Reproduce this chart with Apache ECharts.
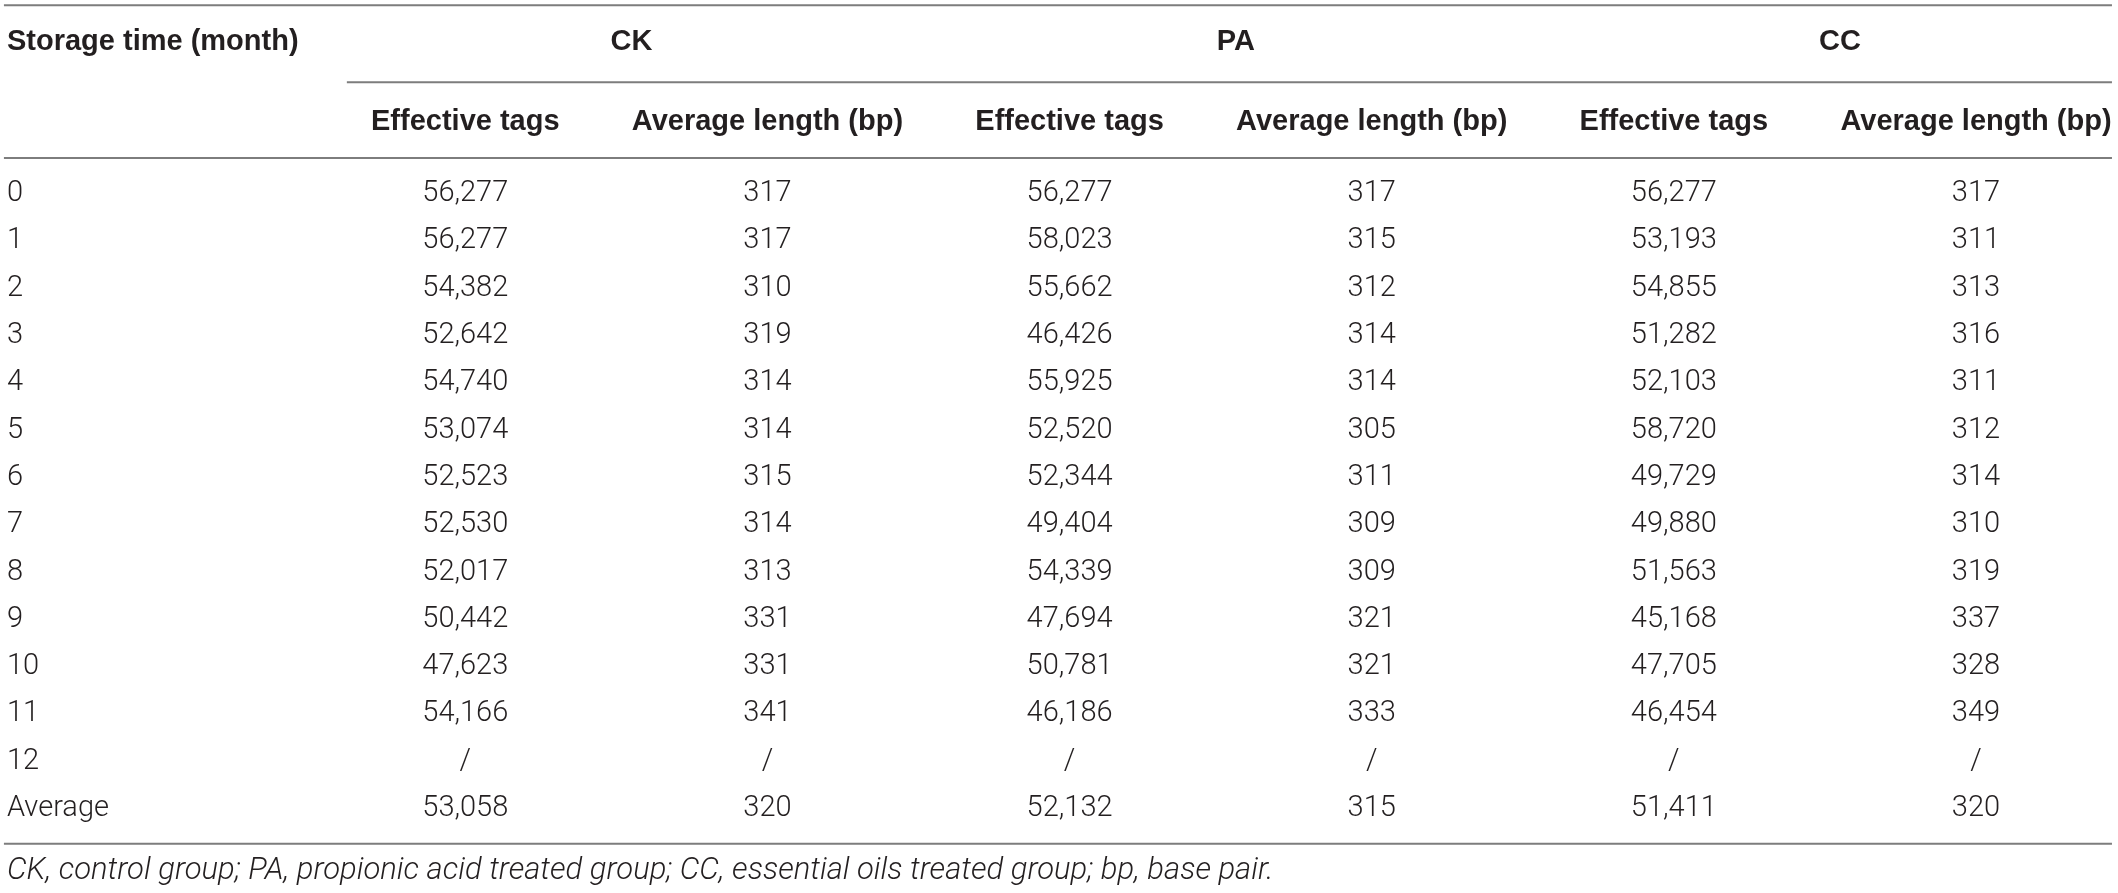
<!DOCTYPE html>
<html>
<head>
<meta charset="utf-8">
<script src="https://cdn.jsdelivr.net/npm/echarts@6/dist/echarts.min.js"></script>
<style>
  html, body { margin: 0; padding: 0; background: #fff; }
  #table-chart { width: 2118px; height: 893px; }
</style>
</head>
<body>
<div id="table-chart"></div>
<script>
// table content
const firstHead = 'Storage time (month)';
const groups = ['CK', 'PA', 'CC'];
const subHeads = ['Effective tags', 'Average length (bp)'];
const months = ['0', '1', '2', '3', '4', '5', '6', '7', '8', '9', '10', '11', '12', 'Average'];

const ckTags = [56277, 56277, 54382, 52642, 54740, 53074, 52523, 52530, 52017, 50442, 47623, 54166, null, 53058];
const ckLen = [317, 317, 310, 319, 314, 314, 315, 314, 313, 331, 331, 341, null, 320];
const paTags = [56277, 58023, 55662, 46426, 55925, 52520, 52344, 49404, 54339, 47694, 50781, 46186, null, 52132];
const paLen = [317, 315, 312, 314, 314, 305, 311, 309, 309, 321, 321, 333, null, 315];
const ccTags = [56277, 53193, 54855, 51282, 52103, 58720, 49729, 49880, 51563, 45168, 47705, 46454, null, 51411];
const ccLen = [317, 311, 313, 316, 311, 312, 314, 310, 319, 337, 328, 349, null, 320];

const footnote = 'CK, control group; PA, propionic acid treated group; CC, essential oils treated group; bp, base pair.';

// layout in axis units: data columns sit at x = 1..6, body rows at y = 0..13
const LABEL_X = -0.517;
const HEAD_Y = -3.21;
const SUB_Y = -1.52;
const NOTE_Y = 14.33;
const LINE_L = -0.527;
const LINE_R = 6.45;

const TEXT = '#231f20';
const RULE = '#7d7d7d';
const BODY_FONT = 'Roboto, "Liberation Sans", sans-serif';
const HEAD_FONT = '"Liberation Sans", Roboto, sans-serif';
const SIZE = 29;

const fmt = v => v == null ? '/' : v.toLocaleString('en-US');

const columns = [ckTags, ckLen, paTags, paLen, ccTags, ccLen];

const cells = [];
const head = (x, y, text, align) => cells.push({x, y, text, align, weight: 'bold', font: HEAD_FONT, size: SIZE});
const body = (x, y, text, align) => cells.push({x, y, text, align, weight: 300, font: BODY_FONT, size: SIZE});

head(LABEL_X, HEAD_Y, firstHead, 'left');
groups.forEach((g, i) => {
    head(2 * i + 1.55, HEAD_Y, g, 'center');
    subHeads.forEach((s, j) => head(2 * i + j + 1, SUB_Y, s, 'center'));
});
months.forEach((m, r) => {
    body(LABEL_X, r, m, 'left');
    columns.forEach((col, c) => body(c + 1, r, fmt(col[r]), 'center'));
});
cells.push({x: LABEL_X, y: NOTE_Y, text: footnote, align: 'left', weight: 300, font: BODY_FONT, size: 31, italic: true});

// horizontal rules [x0, x1, y]
const rules = [
    [LINE_L, LINE_R, -3.99],
    [0.608, LINE_R, -2.36],
    [LINE_L, LINE_R, -0.76],
    [LINE_L, LINE_R, 13.74]
];

const chart = echarts.init(document.getElementById('table-chart'), null, {renderer: 'canvas'});

chart.setOption({
    backgroundColor: '#fff',
    animation: false,
    grid: {left: 0, right: 0, top: 0, bottom: 0},
    xAxis: {type: 'value', min: -0.54, max: 6.47, show: false},
    yAxis: {type: 'value', min: -4.1, max: 14.78, inverse: true, show: false},
    series: [
        {
            type: 'custom',
            name: 'rules',
            data: rules,
            renderItem: (params, api) => {
                const a = api.coord([api.value(0), api.value(2)]);
                const b = api.coord([api.value(1), api.value(2)]);
                return {
                    type: 'line',
                    shape: {x1: a[0], y1: a[1], x2: b[0], y2: b[1]},
                    style: {stroke: RULE, lineWidth: 2}
                };
            }
        },
        {
            type: 'custom',
            name: 'cells',
            data: cells.map(c => [c.x, c.y]),
            renderItem: (params, api) => {
                const c = cells[params.dataIndex];
                const p = api.coord([api.value(0), api.value(1)]);
                return {
                    type: 'text',
                    x: p[0],
                    y: p[1],
                    style: {
                        text: c.text,
                        fill: TEXT,
                        fontSize: c.size,
                        fontFamily: c.font,
                        fontWeight: c.weight,
                        fontStyle: c.italic ? 'italic' : 'normal',
                        align: c.align,
                        verticalAlign: 'middle'
                    }
                };
            }
        }
    ]
});
</script>
</body>
</html>
